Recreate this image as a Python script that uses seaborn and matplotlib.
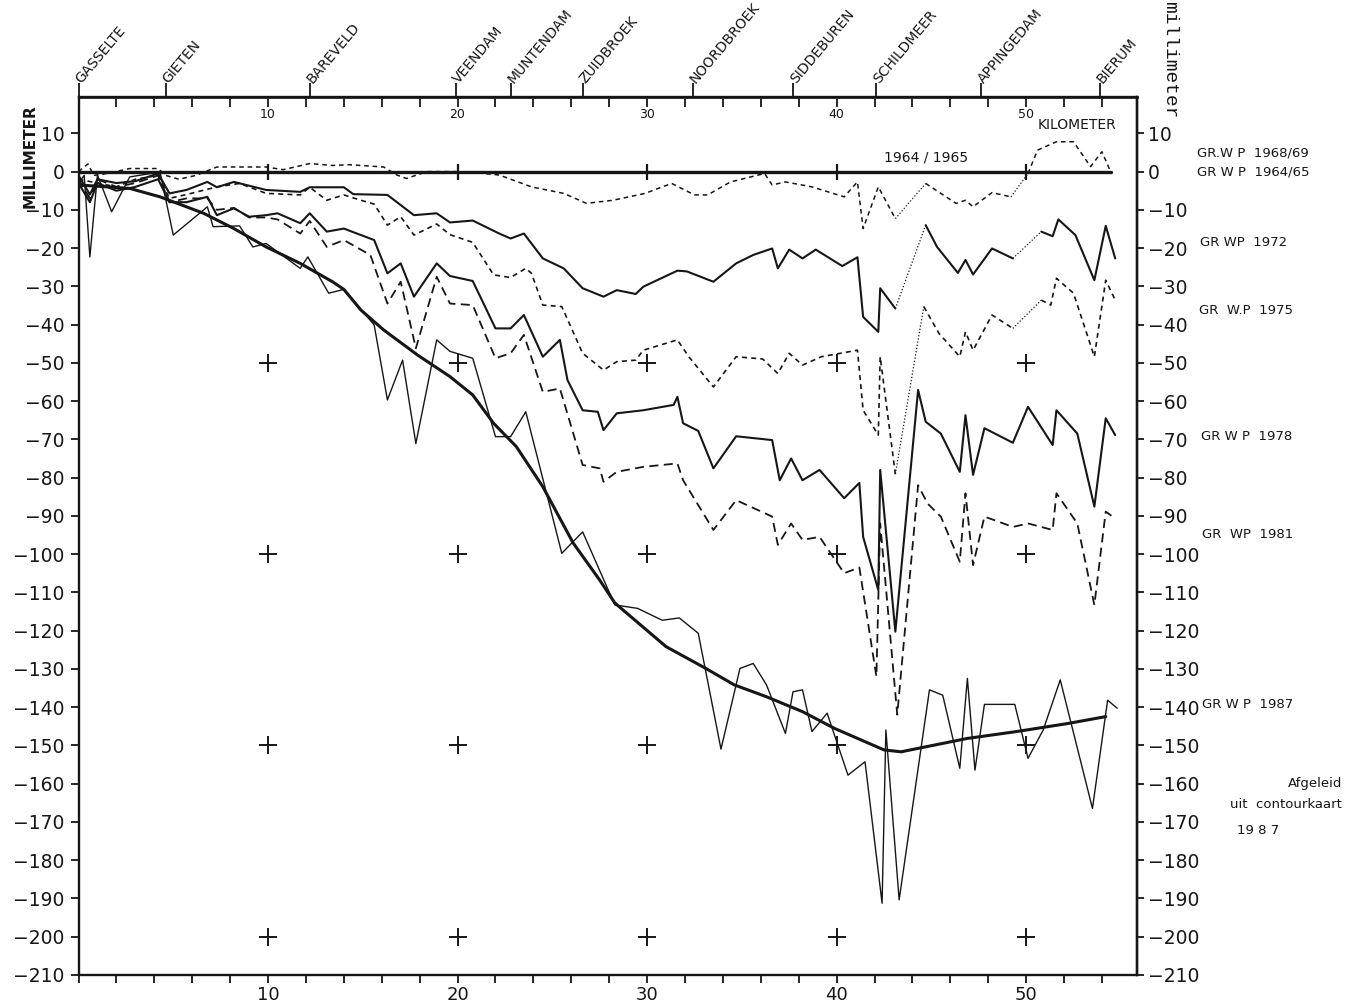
import matplotlib
matplotlib.use("Agg")
import matplotlib.pyplot as plt
import pandas as pd
import seaborn as sns

# profile Gasselte - Bierum, subsidence (mm) relative to levelling 1964/65
places = ["GASSELTE", "GIETEN", "BAREVELD", "VEENDAM", "MUNTENDAM", "ZUIDBROEK",
          "NOORDBROEK", "SIDDEBUREN", "SCHILDMEER", "APPINGEDAM", "BIERUM"]
places_km = [0, 4.6, 12.2, 19.9, 22.8, 26.6, 32.4, 37.7, 42.1, 47.6, 53.9]

km_1964 = [0, 54.5]
mm_1964 = [0, 0]
base_marks_km = [10, 20, 30, 40, 50]

km_1968 = [0, 0.5, 0.8, 1.5, 2.7, 4.2, 4.6, 5.3, 6.2, 7.3, 9.9, 10.8, 12.2, 13.4, 14.3,
           16.1, 16.8, 17.3, 18.4, 20.0, 21.0, 22.2, 23.9, 25.6, 26.8, 28.2, 29.9, 30.8,
           31.3, 32.5, 33.2, 34.4, 36.2, 36.6, 37.3, 38.7, 40.4, 41.1, 41.4, 42.2, 43.1,
           44.7, 46.3, 46.8, 47.2, 48.2, 49.2, 50.1, 50.6, 51.6, 52.5, 53.4, 54.0, 54.5]
mm_1968 = [0, 2, -1, -0.5, 0.8, 0.8, -1, -2, -1, 1.2, 1.2, 0.5, 2.1, 1.6, 1.8,
           1.2, -0.9, -1.8, 0, 0, -0.3, -0.9, -4, -5.7, -8.3, -7.5, -5.7, -4,
           -3.1, -6.1, -6.1, -2.7, -0.5, -3.5, -2.7, -4, -6.6, -2.7, -14.9, -4, -12.3,
           -3.1, -8.3, -7.5, -9.2, -5.5, -6.6, -0.5, 5.6, 7.8, 7.8, 1.3, 5.2, -0.5]
gaps_1968 = [43.1, 49.2]

km_1972 = [0, 0.6, 1.0, 2.0, 3.0, 4.2, 4.8, 5.7, 6.8, 7.3, 8.2, 9.9, 11.7, 12.2, 14.0,
           14.5, 16.3, 17.7, 18.9, 19.6, 20.8, 22.2, 22.8, 23.5, 24.5, 25.6, 26.6, 27.7,
           28.4, 29.4, 29.8, 31.6, 32.1, 33.5, 34.7, 35.6, 36.6, 36.9, 37.5, 38.2, 38.9,
           40.3, 41.1, 41.4, 42.2, 42.3, 43.1, 44.7, 45.3, 46.4, 46.8, 47.2, 48.2, 49.3,
           50.8, 51.4, 51.7, 52.6, 53.6, 54.2, 54.7]
mm_1972 = [-1, -6, -2, -3, -2.5, -0.5, -5.7, -4.8, -2.7, -4.1, -2.7, -4.8, -5.3, -4.1, -4.1,
           -5.9, -6.1, -11.4, -10.9, -13.3, -12.8, -16.2, -17.5, -16.2, -22.7, -25.3, -30.5, -32.7,
           -31, -32, -30.1, -25.9, -26.1, -28.8, -24, -21.8, -20.1, -25.3, -20.4, -22.7, -20.4,
           -24.7, -22.4, -38, -41.9, -30.5, -35.8, -14, -19.7, -26.5, -23.1, -26.9, -20.1, -22.7,
           -15.7, -16.9, -12.5, -16.6, -28.4, -14.2, -22.7]
gaps_1972 = [43.1, 49.3]

km_1975 = [0, 1.0, 2.0, 3.0, 4.2, 4.8, 5.7, 6.5, 7.3, 8.5, 9.9, 11.7, 12.2, 13.1, 14.0,
           14.9, 15.6, 16.3, 17.0, 17.7, 18.9, 19.6, 20.8, 21.9, 22.8, 23.6, 23.9, 24.5,
           25.5, 26.6, 27.7, 28.4, 29.4, 29.8, 31.6, 32.2, 33.5, 34.7, 36.1, 36.9, 37.5,
           38.2, 39.2, 41.1, 41.4, 42.2, 42.3, 43.1, 44.6, 45.4, 46.5, 46.8, 47.2, 48.2,
           49.3, 50.8, 51.3, 51.6, 52.5, 53.6, 54.2, 54.7]
mm_1975 = [-2, -3, -4, -2, -1, -7, -6, -5, -4, -3.1, -5.7, -6.1, -4.1, -7.5, -6.1,
           -7.5, -8.5, -14, -11.8, -16.6, -13.7, -16.5, -18.5, -27, -27.7, -25.3, -26.6, -34.9,
           -35.3, -47.5, -51.9, -49.7, -49.3, -46.7, -44, -48.4, -56.3, -48.4, -49, -52.8, -47.5,
           -50.6, -48.4, -46.7, -62.4, -68.9, -48.4, -79.1, -35.3, -42.3, -48.4, -41.9, -46.7, -37.5,
           -41, -33.6, -34.9, -27.9, -31.8, -48.4, -28.4, -33.6]
gaps_1975 = [43.1, 49.3]

km_1978 = [0, 0.6, 1.0, 2.0, 3.0, 4.2, 4.8, 5.7, 6.8, 7.3, 8.2, 9.0, 9.9, 10.5, 11.7,
           12.2, 13.1, 14.0, 15.6, 16.3, 17.0, 17.7, 18.9, 19.6, 20.8, 22.0, 22.8, 23.5,
           24.5, 25.4, 25.8, 26.6, 27.4, 27.7, 28.4, 29.8, 31.4, 31.6, 31.9, 32.7, 33.5,
           34.7, 36.6, 37.0, 37.6, 38.2, 39.1, 40.4, 41.2, 41.4, 42.2, 42.3, 43.1, 44.3,
           44.7, 45.5, 46.5, 46.8, 47.2, 47.8, 49.3, 50.1, 51.4, 51.6, 52.7, 53.6, 54.2, 54.7]
mm_1978 = [-3, -8, -3, -5, -4, -2, -8, -8, -6.6, -11.4, -9.6, -11.8, -11.4, -10.9, -13.5,
           -10.9, -15.7, -14.9, -17.9, -26.6, -24, -32.7, -24, -27.3, -28.6, -41, -41, -37.5,
           -48.4, -44, -54.5, -62.4, -62.8, -67.6, -63.2, -62.4, -61, -58.9, -65.8, -67.8, -77.6,
           -69.2, -70.2, -80.7, -75, -80.7, -78, -85.4, -81.4, -95.5, -109.4, -78, -120.3, -57.1,
           -65.4, -68.5, -78.5, -63.7, -79.3, -67.1, -70.9, -61.5, -71.5, -62.4, -68.5, -87.6, -64.5, -68.9]

km_1981 = [0, 0.6, 1.0, 2.0, 3.0, 4.2, 4.8, 5.7, 6.8, 7.3, 8.2, 9.0, 9.9, 10.5, 11.7,
           12.2, 13.1, 14.0, 15.4, 16.3, 17.0, 17.8, 18.9, 19.6, 20.8, 22.0, 22.8, 23.5,
           24.5, 25.4, 26.6, 27.5, 27.7, 28.4, 29.8, 31.6, 31.9, 33.5, 34.7, 36.6, 36.9,
           37.6, 38.2, 39.1, 40.4, 41.2, 42.1, 42.3, 43.2, 44.3, 44.8, 45.5, 46.5, 46.8,
           47.2, 47.8, 49.3, 50.1, 51.4, 51.6, 52.7, 53.6, 54.2, 54.7]
mm_1981 = [-2, -7, -2, -4, -3, -1, -8, -7, -7, -10, -9.5, -12, -12, -12.5, -16.2,
           -12.9, -19.7, -17.9, -21.8, -34.5, -28.8, -46.2, -27.5, -34.5, -34.9, -48.8, -47.5, -42.7,
           -57.6, -56.7, -76.7, -77.6, -81.1, -78.5, -77.2, -76.3, -80.7, -93.7, -85.9, -90.2, -97.6,
           -92, -96.3, -95.5, -105, -103.5, -132, -92, -142, -82, -86.8, -90.2, -102, -84.1,
           -102.9, -90.2, -92.9, -92, -93.7, -84.1, -92, -113.3, -88.9, -90.7]

km_1987 = [0, 0.3, 0.6, 1.0, 1.75, 2.7, 4.3, 5.0, 6.8, 7.1, 8.5, 9.2, 9.9, 11.7, 12.1,
           13.2, 14.0, 15.6, 16.3, 17.1, 17.8, 18.9, 19.6, 20.8, 22.0, 22.8, 23.6, 25.5,
           26.6, 28.3, 29.5, 30.8, 31.7, 32.7, 33.9, 34.9, 35.6, 36.3, 37.3, 37.7, 38.2,
           38.7, 39.5, 40.6, 41.5, 42.4, 42.6, 43.3, 44.9, 45.6, 46.5, 46.9, 47.3, 47.8,
           49.4, 50.1, 50.9, 51.8, 53.5, 54.3, 54.8]
mm_1987 = [-3, -1, -22.3, -0.9, -10.5, -1.4, -0.1, -16.6, -9.2, -14.4, -14.2, -19.7, -18.8, -25.3, -22.3,
           -31.8, -30.8, -40.1, -59.7, -49.3, -71.1, -44, -47, -48.8, -69.3, -69.3, -62.8, -99.8,
           -94.2, -113.3, -114.2, -117.3, -116.7, -120.7, -151, -129.9, -128.6, -134.2, -146.9, -136, -135.5,
           -146.4, -141.6, -157.8, -154.3, -191.3, -146, -190.4, -135.5, -136.9, -156, -132.5, -156.5, -139.3,
           -139.3, -153.4, -146, -132.9, -166.5, -138.2, -140.3]

# derived from the 1987 contour map
km_contour = [0, 2.7, 4.3, 6.6, 8.2, 9.9, 11.7, 13.4, 14.0, 14.9, 16.1, 17.9, 19.6, 20.8,
              21.9, 23.1, 24.5, 26.1, 27.5, 28.3, 31.0, 33.1, 34.6, 36.3, 38.2, 39.9, 42.5,
              43.4, 45.2, 46.9, 49.5, 52.2, 54.2]
mm_contour = [-3.5, -4.4, -6.6, -10.9, -14.9, -19.7, -24, -28.8, -30.8, -36.2, -41.4, -48, -53.6, -58.4,
              -65.8, -71.9, -82.4, -97.1, -106.8, -112.8, -124.2, -129.9, -134.2, -137.3, -141.2, -145.6, -151.2,
              -151.7, -149.9, -148.2, -146.4, -144.3, -142.5]

cross_km = [10, 20, 30, 40, 50]
cross_mm = [-50, -100, -150, -200]

ink = "#161616"

sns.set_theme(style="white")
plt.rcParams["font.family"] = ["DejaVu Sans"]

fig = plt.figure(figsize=(13.58, 10.07), dpi=100)
ax = fig.add_axes([78.5 / 1358, 1 - 974.8 / 1007, (1137 - 78.5) / 1358, (974.8 - 97) / 1007])


def draw(km, mm, gaps=(), **kw):
    # solid/dashed pieces, with dotted stretches where the profile was bridged
    df = pd.DataFrame({"km": km, "mm": mm})
    idx = [km.index(g) for g in gaps]
    cuts = [-1] + idx + [len(df) - 1]
    for a, b in zip(cuts[:-1], cuts[1:]):
        part = df.iloc[a + 1:b + 1]
        sns.lineplot(data=part, x="km", y="mm", sort=False, estimator=None,
                     color=ink, ax=ax, **kw)
    for i in idx:
        sns.lineplot(data=df.iloc[i:i + 2], x="km", y="mm", sort=False, estimator=None,
                     color=ink, lw=0.9, linestyle=(0, (1, 1.6)), ax=ax)


draw(km_1964, mm_1964, lw=2.4)
draw(km_1968, mm_1968, gaps_1968, lw=1.1, linestyle=(0, (3, 2.5)))
draw(km_1972, mm_1972, gaps_1972, lw=1.5)
draw(km_1975, mm_1975, gaps_1975, lw=1.2, linestyle=(0, (3, 2.5)))
draw(km_1978, mm_1978, lw=1.5)
draw(km_1981, mm_1981, lw=1.3, linestyle=(0, (5, 3)))
draw(km_1987, mm_1987, lw=1.0)
draw(km_contour, mm_contour, lw=2.2)

sns.scatterplot(x=base_marks_km, y=[0] * len(base_marks_km), marker="|", s=120,
                color=ink, linewidth=1.6, ax=ax)
grid = pd.DataFrame([(k, m) for m in cross_mm for k in cross_km], columns=["km", "mm"])
sns.scatterplot(data=grid, x="km", y="mm", marker="+", s=150, color=ink,
                linewidth=1.4, ax=ax)

ax.set_xlim(0, 55.85)
ax.set_ylim(-210, 19.5)
ax.set_xlabel("")
ax.set_ylabel("")
for s in ax.spines.values():
    s.set_visible(True)
    s.set_color(ink)
    s.set_linewidth(1.7)

xt = list(range(0, 56, 2))
xl = [str(v) if v % 10 == 0 and v > 0 else "" for v in xt]
ax.set_xticks(xt, labels=xl)
yt = list(range(-210, 11, 10))
ax.set_yticks(yt, labels=[str(v).replace("-", "\u2212") for v in yt])
ax.tick_params(axis="x", bottom=True, direction="out", length=6, width=1.3,
               labelsize=13, pad=2, colors=ink)
ax.tick_params(axis="y", left=True, direction="out", length=6, width=1.3,
               labelsize=13.5, pad=4, colors=ink)

right = ax.secondary_yaxis("right")
right.set_yticks(yt, labels=[str(v).replace("-", "\u2212") for v in yt])
right.tick_params(direction="out", length=5, width=1.3, labelsize=13.5, pad=3, colors=ink)
right.spines["right"].set_linewidth(1.7)

top = ax.secondary_xaxis("top")
top.set_xticks(xt, labels=xl)
top.tick_params(direction="in", length=7, width=1.3, labelsize=9, pad=-17, colors=ink)
top.spines["top"].set_linewidth(2.0)

names = ax.secondary_xaxis("top")
names.set_xticks(places_km, labels=places)
names.tick_params(direction="out", length=10, width=1.3, labelsize=10, pad=1, colors=ink)
plt.setp(names.get_xticklabels(), rotation=50, ha="left", va="center",
         rotation_mode="anchor")

ax.text(50.6, 12.2, "KILOMETER", fontsize=10, ha="left", va="center", color=ink)
ax.text(44.7, 3.6, "1964 / 1965", fontsize=10, ha="center", va="center", color=ink)

fig.text(30 / 1358, 1 - 156 / 1007, "MILLIMETER", rotation=90, ha="center", va="center",
         fontsize=11, fontweight="bold", color=ink)
fig.text(1170 / 1358, 1 - 60 / 1007, "millimeter", rotation=-90, ha="center", va="center",
         fontsize=14, family=["Liberation Mono", "DejaVu Sans Mono"], color=ink)

series_labels = ["GR.W P  1968/69", "GR W P  1964/65", "GR WP  1972", "GR  W.P  1975",
                 "GR W P  1978", "GR  WP  1981", "GR W P  1987"]
label_px = [(1197, 153), (1197, 172), (1200, 243), (1199, 310), (1201, 437),
            (1202, 535), (1202, 705)]
for txt, (px, py) in zip(series_labels, label_px):
    fig.text(px / 1358, 1 - py / 1007, txt, fontsize=9.5, ha="left", va="center", color=ink)

fig.text(1342 / 1358, 1 - 783 / 1007, "Afgeleid", fontsize=9.5, ha="right", va="center", color=ink)
fig.text(1342 / 1358, 1 - 805 / 1007, "uit  contourkaart", fontsize=9.5, ha="right",
         va="center", color=ink)
fig.text(1258 / 1358, 1 - 830 / 1007, "19 8 7", fontsize=9.5, ha="center", va="center", color=ink)

fig.savefig("out.png", dpi=100, facecolor="white")
